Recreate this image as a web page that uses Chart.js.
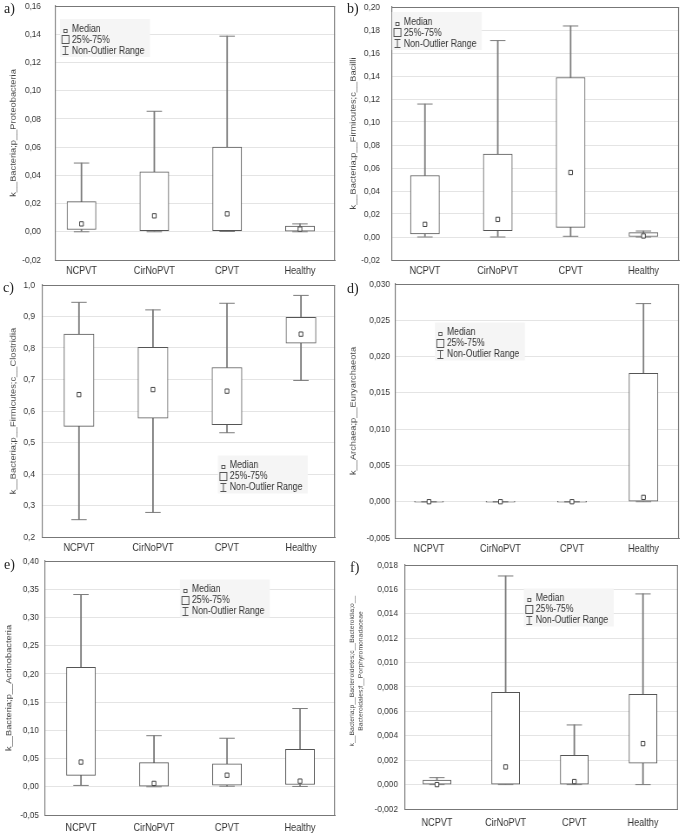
<!DOCTYPE html>
<html>
<head>
<meta charset="utf-8">
<script src="https://cdn.jsdelivr.net/npm/chart.js@4/dist/chart.umd.min.js"></script>
<style>
html,body{margin:0;padding:0;background:#fff;}
#wrap{position:relative;width:685px;height:837px;overflow:hidden;background:#fff;}
canvas{position:absolute;}
.lbl{position:absolute;font-family:'Liberation Serif','Times New Roman',serif;font-size:14px;line-height:14px;color:#222;}
</style>
</head>
<body>
<div id="wrap">
  <canvas id="ca"></canvas>
  <canvas id="cb"></canvas>
  <canvas id="cc"></canvas>
  <canvas id="cd"></canvas>
  <canvas id="ce"></canvas>
  <canvas id="cf"></canvas>
  <div class="lbl" style="left:4px;top:2px">a)</div>
  <div class="lbl" style="left:347px;top:2px">b)</div>
  <div class="lbl" style="left:3px;top:281px">c)</div>
  <div class="lbl" style="left:347px;top:282px">d)</div>
  <div class="lbl" style="left:4px;top:558px">e)</div>
  <div class="lbl" style="left:350px;top:561px">f)</div>
</div>
<script>
// ---------------- DATA ----------------
const categories = ['NCPVT', 'CirNoPVT', 'CPVT', 'Healthy'];
const legendLabels = ['Median', '25%-75%', 'Non-Outlier Range'];

// a) k__Bacteria;p__Proteobacteria
const proteoMin = [0.0000, 0.0000, 0.0002, 0.0000];
const proteoQ1  = [0.0016, 0.0007, 0.0007, 0.0000];
const proteoMed = [0.0056, 0.0113, 0.0127, 0.0019];
const proteoQ3  = [0.0214, 0.0424, 0.0600, 0.0040];
const proteoMax = [0.0487, 0.0854, 0.1386, 0.0056];
const proteoTicks = [-0.02, 0.00, 0.02, 0.04, 0.06, 0.08, 0.10, 0.12, 0.14, 0.16];

// b) k__Bacteria;p__Firmicutes;c__Bacilli
const bacilliMin = [0.0000, 0.0000, 0.0006, 0.0000];
const bacilliQ1  = [0.0026, 0.0055, 0.0084, 0.0000];
const bacilliMed = [0.0110, 0.0153, 0.0561, 0.0009];
const bacilliQ3  = [0.0535, 0.0720, 0.1387, 0.0038];
const bacilliMax = [0.1156, 0.1708, 0.1835, 0.0052];
const bacilliTicks = [-0.02, 0.00, 0.02, 0.04, 0.06, 0.08, 0.10, 0.12, 0.14, 0.16, 0.18, 0.20];

// c) k__Bacteria;p__Firmicutes;c__Clostridia
const clostMin = [0.255, 0.278, 0.531, 0.697];
const clostQ1  = [0.551, 0.577, 0.557, 0.815];
const clostMed = [0.652, 0.668, 0.663, 0.844];
const clostQ3  = [0.844, 0.802, 0.738, 0.897];
const clostMax = [0.945, 0.921, 0.942, 0.967];
const clostTicks = [0.2, 0.3, 0.4, 0.5, 0.6, 0.7, 0.8, 0.9, 1.0];

// d) k__Archaea;p__Euryarchaeota
const euryMin = [0.0000, 0.0000, 0.0000, 0.0000];
const euryQ1  = [0.0000, 0.0000, 0.0000, 0.0000];
const euryMed = [0.0000, 0.0000, 0.0000, 0.0006];
const euryQ3  = [0.0000, 0.0000, 0.0000, 0.0177];
const euryMax = [0.0000, 0.0000, 0.0000, 0.0273];
const euryTicks = [-0.005, 0.000, 0.005, 0.010, 0.015, 0.020, 0.025, 0.030];

// e) k__Bacteria;p__Actinobacteria
const actinoMin = [0.0024, 0.0000, 0.0010, 0.0006];
const actinoQ1  = [0.0201, 0.0000, 0.0030, 0.0040];
const actinoMed = [0.0438, 0.0060, 0.0205, 0.0100];
const actinoQ3  = [0.2115, 0.0427, 0.0405, 0.0663];
const actinoMax = [0.3406, 0.0905, 0.0860, 0.1386];
const actinoTicks = [-0.05, 0.00, 0.05, 0.10, 0.15, 0.20, 0.25, 0.30, 0.35, 0.40];

// f) k__Bacteria;p__Bacteroidetes;c__Bacteroidia;o__Bacteroidales;f__Porphyromonadaceae
const porphMin = [0.00000, 0.00000, 0.00000, 0.00000];
const porphQ1  = [0.00000, 0.00000, 0.00000, 0.00175];
const porphMed = [0.00000, 0.00145, 0.00025, 0.00336];
const porphQ3  = [0.00038, 0.00757, 0.00240, 0.00740];
const porphMax = [0.00057, 0.01710, 0.00489, 0.01563];
const porphTicks = [-0.002, 0.000, 0.002, 0.004, 0.006, 0.008, 0.010, 0.012, 0.014, 0.016, 0.018];

// ---------------- PANELS ----------------
const panels = [
  {key:'a', title:'k__Bacteria;p__Proteobacteria', min:proteoMin, q1:proteoQ1, med:proteoMed, q3:proteoQ3, max:proteoMax, ticks:proteoTicks, dec:2},
  {key:'b', title:'k__Bacteria;p__Firmicutes;c__Bacilli', min:bacilliMin, q1:bacilliQ1, med:bacilliMed, q3:bacilliQ3, max:bacilliMax, ticks:bacilliTicks, dec:2},
  {key:'c', title:'k__Bacteria;p__Firmicutes;c__Clostridia', min:clostMin, q1:clostQ1, med:clostMed, q3:clostQ3, max:clostMax, ticks:clostTicks, dec:1},
  {key:'d', title:'k__Archaea;p__Euryarchaeota', min:euryMin, q1:euryQ1, med:euryMed, q3:euryQ3, max:euryMax, ticks:euryTicks, dec:3},
  {key:'e', title:'k__Bacteria;p__Actinobacteria', min:actinoMin, q1:actinoQ1, med:actinoMed, q3:actinoQ3, max:actinoMax, ticks:actinoTicks, dec:2},
  {key:'f', title:['k__Bacteria;p__Bacteroidetes;c__Bacteroidia;o__', 'Bacteroidales;f__Porphyromonadaceae'], min:porphMin, q1:porphQ1, med:porphMed, q3:porphQ3, max:porphMax, ticks:porphTicks, dec:3}
];

// ---------------- LAYOUT (page pixels; positions / styles only) ----------------
const K = 0.87; // horizontal squeeze of the original figure
const layouts = {
  a:{left:0,   top:0,   w:340, h:280, yW:55, padT:6,  padR:5, xH:20, xmin:0.636, xmax:4.481, tickGap:14, titleX:13,   box:29, leg:[72,28.5], xPad:5},
  b:{left:340, top:0,   w:345, h:280, yW:52, padT:7,  padR:6, xH:20, xmin:0.547, xmax:4.488, tickGap:12, titleX:13,   box:29, leg:[64,21.5], xPad:5},
  c:{left:0,   top:280, w:340, h:275, yW:42, padT:5,  padR:5, xH:18, xmin:0.500, xmax:4.460, tickGap:7,  titleX:13.5, box:30, leg:[230,185], xPad:5},
  d:{left:340, top:280, w:345, h:275, yW:55, padT:4,  padR:6, xH:17, xmin:0.524, xmax:4.497, tickGap:5,  titleX:13,   box:29, leg:[107,52], xPad:5},
  e:{left:0,   top:555, w:340, h:282, yW:45, padT:6,  padR:5, xH:22, xmin:0.507, xmax:4.479, tickGap:6,  titleX:9.5,  box:29, leg:[192,34], xPad:7},
  f:{left:340, top:555, w:345, h:282, yW:65, padT:10, padR:7, xH:28, xmin:0.534, xmax:4.510, tickGap:7,  titleX:[12,21], titleY:116, titleSize:6.8, box:28, leg:[196,43], xPad:8}
};

const SANS = "'Liberation Sans', Arial, sans-serif";
const BOX_C = '#555';
const WH_C = '#7c7c7c';
const TITLE_SIZE = 9.3;
const TITLE_LH = 1.2;

function fmt(v, dec) {
  if (Math.abs(v) < 1e-12) v = 0;
  return v.toFixed(dec).replace('.', ',');
}

const framePlugin = {
  id: 'frame',
  afterDraw(chart) {
    const {ctx, chartArea: a} = chart;
    ctx.save();
    ctx.strokeStyle = '#777';
    ctx.lineWidth = 1;
    const t = Math.round(a.top) + 0.5;
    ctx.beginPath();
    ctx.moveTo(a.left, t); ctx.lineTo(a.right, t);
    ctx.stroke();
    ctx.lineWidth = 1 / K;
    ctx.beginPath();
    ctx.moveTo(a.right - 0.5 / K, a.top); ctx.lineTo(a.right - 0.5 / K, a.bottom);
    ctx.stroke();
    ctx.restore();
  }
};

const sideTitlePlugin = {
  id: 'sideTitle',
  afterDraw(chart, args, opts) {
    if (!opts.lines) return;
    const ctx = chart.ctx;
    ctx.save();
    ctx.fillStyle = '#444';
    ctx.font = opts.size + 'px ' + SANS;
    ctx.textAlign = 'center';
    ctx.textBaseline = 'middle';
    opts.lines.forEach((t, i) => {
      ctx.save();
      ctx.translate(opts.x[i], opts.y);
      ctx.rotate(-Math.PI / 2);
      ctx.fillText(t, 0, 0);
      ctx.restore();
    });
    ctx.restore();
  }
};

const legendPlugin = {
  id: 'boxLegend',
  afterDraw(chart, args, opts) {
    const ctx = chart.ctx;
    const s = 1 / K;
    const x = opts.x, y = opts.y, lh = 10.9;
    ctx.save();
    ctx.fillStyle = '#f5f5f5';
    ctx.fillRect(x - 12 * s, y - 9.5, 90 * s, 38);
    ctx.font = "10px " + SANS;
    ctx.fillStyle = '#333';
    ctx.textAlign = 'left';
    ctx.textBaseline = 'middle';
    opts.labels.forEach((t, i) => ctx.fillText(t, x, y + i * lh + 0.5));
    const cx = x - 6.5 * s;
    ctx.strokeStyle = '#555';
    ctx.lineWidth = 1;
    const my = Math.round(y) + 0.5;
    ctx.fillStyle = '#fff';
    ctx.fillRect(cx - 1.6 * s, my, 3.2 * s, 3);
    ctx.strokeRect(cx - 1.6 * s, my, 3.2 * s, 3);
    const by = Math.round(y + lh);
    ctx.strokeRect(cx - 3.5 * s, by - 3.5, 7 * s, 8);
    const wy = Math.round(y + 2 * lh);
    ctx.beginPath();
    ctx.moveTo(cx, wy - 4); ctx.lineTo(cx, wy + 4.5);
    ctx.moveTo(cx - 3 * s, wy - 3.5); ctx.lineTo(cx + 3 * s, wy - 3.5);
    ctx.moveTo(cx - 3 * s, wy + 4.5); ctx.lineTo(cx + 3 * s, wy + 4.5);
    ctx.stroke();
    ctx.restore();
  }
};

function makeChart(p) {
  const L = layouts[p.key];
  const cv = document.getElementById('c' + p.key);
  cv.width = Math.round(L.w / K);
  cv.height = L.h;
  cv.style.left = L.left + 'px';
  cv.style.top = L.top + 'px';
  cv.style.width = L.w + 'px';
  cv.style.height = L.h + 'px';

  const pts = arr => arr.map((v, i) => ({x: i + 1, y: v}));
  const rng = (lo, hi) => lo.map((v, i) => ({x: i + 1, y: [v, hi[i]]}));
  const multi = Array.isArray(p.title);

  new Chart(cv, {
    type: 'bar',
    data: {
      datasets: [
        {type:'scatter', data: pts(p.med), pointStyle:'rect', pointRadius:3.05, pointBackgroundColor:'#fff', pointBorderColor:'#444', pointBorderWidth:1},
        {type:'scatter', data: pts(p.max), pointStyle:'line', pointRadius:7.7 / K, pointBorderColor:WH_C, pointBorderWidth:1},
        {type:'scatter', data: pts(p.min), pointStyle:'line', pointRadius:7.7 / K, pointBorderColor:WH_C, pointBorderWidth:1},
        {type:'bar', data: rng(p.q1, p.q3), backgroundColor:'#fff', borderColor:BOX_C, borderWidth:1, borderSkipped:false, barThickness:L.box / K, minBarLength:1, grouped:false},
        {type:'bar', data: rng(p.min, p.q1), backgroundColor:WH_C, borderWidth:0, barThickness:1 / K, grouped:false},
        {type:'bar', data: rng(p.q3, p.max), backgroundColor:WH_C, borderWidth:0, barThickness:1 / K, grouped:false}
      ]
    },
    options: {
      responsive: false,
      animation: false,
      events: [],
      layout: {autoPadding: false, padding: {left: 0, top: L.padT, right: L.padR / K, bottom: 0}},
      plugins: {
        legend: {display: false},
        tooltip: {enabled: false},
        boxLegend: {x: L.leg[0] / K, y: L.leg[1], labels: legendLabels},
        sideTitle: multi ? {lines: p.title, x: L.titleX.map(v => v / K), y: L.titleY, size: L.titleSize} : {}
      },
      scales: {
        x: {
          type: 'linear',
          offset: false,
          min: L.xmin, max: L.xmax,
          afterBuildTicks: s => { s.ticks = categories.map((c, i) => ({value: i + 1})); },
          afterFit: s => { s.height = L.xH; s.paddingLeft = 0; s.paddingRight = 0; },
          grid: {display: false, drawTicks: false, offset: false},
          border: {display: true, color: '#777', width: 1},
          ticks: {
            padding: L.xPad, color: '#333', autoSkip: false, maxRotation: 0, minRotation: 0,
            font: {family: SANS, size: 10.5},
            callback: v => categories[Math.round(v) - 1] || ''
          }
        },
        y: {
          type: 'linear',
          min: p.ticks[0], max: p.ticks[p.ticks.length - 1],
          afterBuildTicks: s => { s.ticks = p.ticks.map(v => ({value: v})); },
          afterFit: s => { s.width = L.yW / K; s.paddingTop = 0; s.paddingBottom = 0; },
          grid: {color: '#e4e4e4', lineWidth: 1, drawTicks: false},
          border: {display: true, color: '#777', width: 1 / K},
          ticks: {
            padding: L.tickGap / K, color: '#333',
            font: {family: SANS, size: 9.5, lineHeight: 0.4},
            callback: v => fmt(v, p.dec)
          },
          title: multi ? {display: false} : {
            display: true, text: p.title, color: '#444',
            font: {family: SANS, size: TITLE_SIZE, lineHeight: TITLE_LH},
            padding: {top: L.titleX / K - TITLE_SIZE * TITLE_LH / 2, bottom: 0}
          }
        }
      }
    },
    plugins: [framePlugin, legendPlugin, sideTitlePlugin]
  });
}

panels.forEach(makeChart);
</script>
</body>
</html>
